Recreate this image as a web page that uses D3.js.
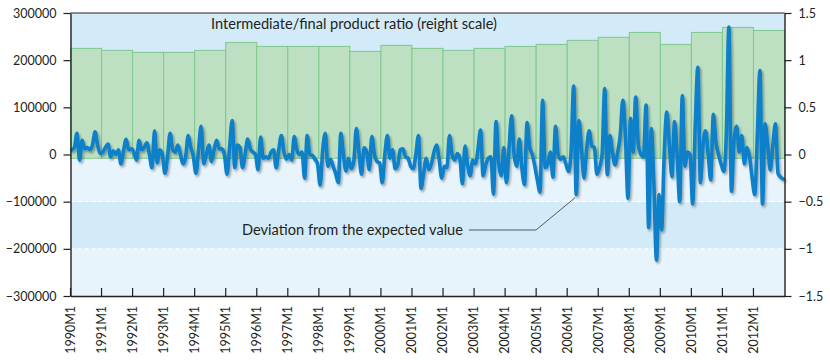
<!DOCTYPE html>
<html><head><meta charset="utf-8">
<script src="https://cdn.jsdelivr.net/npm/d3@7"></script>
<style>
body{margin:0;background:#fff}
svg{display:block}
text{font-family:Lato, "Noto Sans", sans-serif; fill:#231f20}
</style>
</head><body>
<svg id="chart" width="830" height="360"></svg>
<script>
// ---------- data ----------
const years = d3.range(1990, 2013);
const yearLabels = years.map(y => y + "M1");
const ratio = [1.125, 1.104, 1.083, 1.083, 1.104, 1.188, 1.146, 1.146, 1.146, 1.093, 1.157, 1.125,
               1.104, 1.125, 1.146, 1.167, 1.21, 1.242, 1.294, 1.167, 1.294, 1.347, 1.315];
const ratioBase = -0.04;
const deviation = [
  10000, 15000, 45000, -12000, 30000, 12000, 15000, 10000, 20000, 48000, 20000, 2000,
  5000, 15000, 22000, -5000, 8000, 0, 10000, -20000, 8000, 32000, 10000, 12000,
  5000, -12000, 30000, 10000, 15000, 25000, 0, -28000, 50000, -18000, 10000, 0,
  -40000, -5000, 45000, 10000, 5000, 20000, 0, -20000, -5000, 40000, 15000, -5000,
  -40000, 10000, 60000, -20000, 0, 20000, -15000, 10000, 30000, 12000, 12000, 0,
  -42000, 15000, 72000, -28000, 20000, 15000, -28000, 0, 33000, 12000, 5000, 0,
  -32000, 37000, -8000, -5000, -8000, 5000, 10000, -28000, 10000, 40000, 5000, -10000,
  0, -12000, 38000, 10000, 0, 5000, -50000, 40000, 0, -2000, -10000, -20000,
  -65000, 10000, 45000, -25000, -10000, -25000, -40000, -60000, 45000, 0, -35000, -8000,
  -30000, -15000, 55000, 5000, -42000, 14000, 5000, -32000, 38000, 0, -15000, -18000,
  -60000, 0, 40000, -8000, 10000, -30000, -22000, 10000, 12000, -5000, -8000, -25000,
  -30000, 0, 40000, -72000, -40000, -8000, -32000, -20000, 5000, 20000, -10000, -50000,
  -25000, -28000, 40000, 0, -12000, 2000, -8000, -62000, 18000, -22000, -45000, -12000,
  -20000, 10000, 52000, -45000, -22000, -8000, -5000, -84000, 70000, -18000, -45000, 15000,
  -60000, 10000, 82000, -2000, -25000, 33000, -30000, -64000, 68000, 15000, 0, -25000,
  -55000, -80000, 115000, -28000, -20000, 5000, -48000, 60000, 0, -10000, -5000, -20000,
  -36000, 5000, 145000, -85000, 72000, 15000, -50000, 10000, 50000, 18000, 15000, -42000,
  -28000, 0, 140000, -43000, 40000, 5000, -22000, 5000, 40000, 115000, 40000, -93000,
  77000, 5000, 122000, 20000, 0, -5000, 105000, -155000, 55000, -60000, -224000, -85000,
  -160000, 0, 90000, 20000, -47000, 70000, 0, -100000, 125000, -25000, 5000, 0,
  -105000, 60000, 185000, -60000, 20000, 50000, 0, -54000, 85000, 25000, 0, -20000,
  -36000, 40000, 270000, -78000, 30000, 60000, 5000, 40000, -20000, 15000, -5000, -50000,
  -85000, 40000, 178000, -105000, 65000, 20000, -33000, 20000, 65000, -40000, -48000, -52000
];
const leftTicks = [-300000, -200000, -100000, 0, 100000, 200000, 300000];
const rightTicks = [-1.5, -1, -0.5, 0, 0.5, 1, 1.5];
const ratioLabel = "Intermediate/final product ratio (reight scale)";
const deviationLabel = "Deviation from the expected value";
const pointedMonth = 195;

// ---------- layout ----------
const L = 70.5, R = 784.5, T = 13, B = 296;
const svg = d3.select("#chart");

const xYear = d3.scaleBand().domain(years).range([L, R]);
const xMonth = d3.scaleBand().domain(d3.range(deviation.length)).range([L, R]);
const yL = d3.scaleLinear().domain([-300000, 300000]).range([B, T]);
const yR = d3.scaleLinear().domain([-1.5, 1.5]).range([B, T]);

// shadow filter
const defs = svg.append("defs");
const f = defs.append("filter").attr("id", "sh").attr("x", "-5%").attr("y", "-5%").attr("width", "110%").attr("height", "110%");
f.append("feDropShadow").attr("dx", 1.5).attr("dy", 2).attr("stdDeviation", 1.2)
  .attr("flood-color", "#000").attr("flood-opacity", 0.35);

// background bands
const bands = d3.pairs(leftTicks);
svg.append("g").selectAll("rect").data(bands).join("rect")
  .attr("x", L).attr("width", R - L)
  .attr("y", d => yL(d[1])).attr("height", d => yL(d[0]) - yL(d[1]))
  .attr("fill", (d, i) => i % 2 === 0 ? "#e7f4fc" : "#d3eaf8");

// dashed grid lines
svg.append("g").selectAll("line").data(leftTicks.filter(t => t !== 0 && Math.abs(t) !== 300000)).join("line")
  .attr("x1", L).attr("x2", R).attr("y1", d => yL(d)).attr("y2", d => yL(d))
  .attr("stroke", "#fff").attr("stroke-width", 1).attr("stroke-dasharray", "4,3");

// ratio bars
svg.append("g").selectAll("rect").data(ratio).join("rect")
  .attr("x", (d, i) => xYear(years[i]))
  .attr("width", xYear.bandwidth())
  .attr("y", d => yR(d))
  .attr("height", d => yR(ratioBase) - yR(d))
  .attr("fill", "#bee0c2").attr("stroke", "#7fc88e").attr("stroke-width", 1);

// deviation line
const line = d3.line()
  .x((d, i) => xMonth(i) + xMonth.bandwidth() / 2)
  .y(d => yL(d))
  .curve(d3.curveMonotoneX);
svg.append("path").datum(deviation)
  .attr("d", line)
  .attr("fill", "none").attr("stroke", "#0a80c9").attr("stroke-width", 3.6)
  .attr("stroke-linejoin", "round").attr("stroke-linecap", "round")
  .attr("filter", "url(#sh)");

// frame top
svg.append("line").attr("x1", L).attr("x2", R).attr("y1", T).attr("y2", T)
  .attr("stroke", "#231f20").attr("stroke-width", 1.2);

// axes
const styleAxis = g => {
  g.selectAll(".domain").attr("stroke", "#231f20").attr("stroke-width", 1.4);
  g.selectAll(".tick line").attr("stroke", "#231f20").attr("stroke-width", 1.2);
  g.selectAll("text").attr("font-size", 12.5).attr("fill", "#231f20")
    .style("font-family", "Lato, 'Noto Sans', sans-serif");
};
svg.append("g").attr("transform", `translate(${L},0)`)
  .call(d3.axisLeft(yL).tickValues(leftTicks).tickFormat(d3.format("d")).tickSize(7).tickSizeOuter(0).tickPadding(7))
  .call(styleAxis);
svg.append("g").attr("transform", `translate(${R},0)`)
  .call(d3.axisRight(yR).tickValues(rightTicks).tickFormat(d3.format("~g")).tickSize(7).tickSizeOuter(0).tickPadding(7))
  .call(styleAxis);
const xAxis = svg.append("g").attr("transform", `translate(0,${B})`)
  .call(d3.axisBottom(xYear).tickValues(years).tickFormat((d, i) => yearLabels[i]).tickSize(-8).tickSizeOuter(0))
  .call(styleAxis);
xAxis.selectAll(".tick").attr("transform", d => `translate(${xYear(d)},0)`);
xAxis.selectAll(".tick text")
  .attr("transform", "rotate(-90)")
  .attr("text-anchor", "end").attr("x", -10).attr("y", 0).attr("dy", "0.35em");

// annotations
svg.append("text").attr("x", 211).attr("y", 29).attr("font-size", 14.6).text(ratioLabel);
const dev = svg.append("text").attr("x", 242).attr("y", 235).attr("font-size", 14.6).text(deviationLabel);
const tx = 242 + dev.node().getComputedTextLength();
const px = xMonth(pointedMonth) + xMonth.bandwidth() / 2, py = yL(deviation[pointedMonth]) + 3;
svg.append("polyline")
  .attr("points", [[tx + 6, 230], [536, 230], [px - 1, py]].map(p => p.join(",")).join(" "))
  .attr("fill", "none").attr("stroke", "#333").attr("stroke-width", 0.8);
</script>
</body></html>
